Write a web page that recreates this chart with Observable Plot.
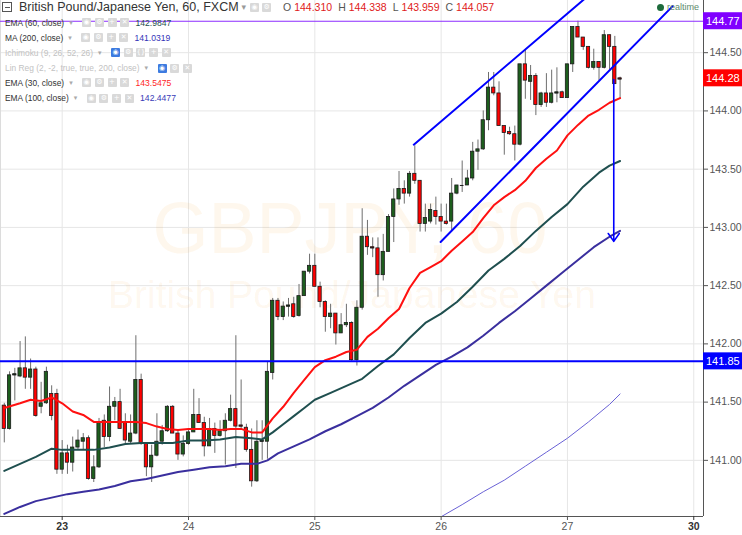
<!DOCTYPE html>
<html>
<head>
<meta charset="utf-8">
<script src="https://cdn.jsdelivr.net/npm/d3@7"></script>
<script src="https://cdn.jsdelivr.net/npm/@observablehq/plot@0.6"></script>
<style>
html,body{margin:0;padding:0;background:#fff;}
#wrap{position:relative;width:742px;height:535px;overflow:hidden;font-family:"Liberation Sans",Arial,sans-serif;}
#overlay{position:absolute;left:0;top:0;width:742px;height:535px;pointer-events:none;}
.t{position:absolute;white-space:nowrap;}
.ic{position:absolute;width:9px;height:9px;background:#d9d9d9;color:#fff;font-size:7px;line-height:9px;text-align:center;border-radius:1px;font-family:"DejaVu Sans",sans-serif;}
</style>
</head>
<body>
<div id="wrap"><div id="chart"></div><div id="overlay"></div></div>
<script>
// ---------- DATA (hourly candles, hour 0 = 23rd 00:00) ----------
const firstHour = -11;
const opens  = [141.47,141.27,141.73,141.72,141.79,141.71,141.78,141.46,141.49,141.57,141.57,140.92,141.06,140.98,141.11,141.16,141.19,140.84,140.94,141.34,141.20,141.46,141.50,141.32,141.16,141.23,141.69,141.14,140.94,141.04,141.16,141.25,141.46,141.23,141.05,141.14,141.24,141.39,141.32,141.12,141.27,141.21,141.25,141.34,141.44,141.30,141.28,141.09,140.82,141.16,141.16,141.75,142.37,142.23,142.32,142.34,142.24,142.41,142.62,142.67,142.49,142.36,142.23,142.26,142.09,142.16,142.18,141.86,142.31,142.92,142.83,142.82,142.59,142.79,143.09,143.24,143.33,143.29,143.46,143.40,143.03,143.05,143.14,143.09,143.05,143.05,143.29,143.36,143.36,143.42,143.65,143.67,143.92,144.20,144.15,143.87,143.82,143.80,143.71,144.40,144.25,144.30,144.05,144.15,144.07,144.15,144.16,144.11,144.40,144.72,144.63,144.55,144.37,144.42,144.37,144.65,144.55,144.28];
const highs  = [141.49,141.76,141.79,142.02,142.06,141.87,141.80,141.67,141.80,141.64,141.61,141.17,141.13,141.20,141.26,141.23,141.21,141.04,141.36,141.39,141.63,141.54,141.61,141.40,141.39,142.07,141.74,141.14,141.13,141.40,141.30,141.47,141.47,141.26,141.21,141.27,141.61,141.53,141.37,141.36,141.32,141.34,141.40,141.56,142.07,141.69,141.31,141.27,141.34,141.34,141.84,142.39,142.39,142.36,142.39,142.40,142.51,142.62,142.77,142.77,142.53,142.37,142.34,142.26,142.26,142.34,142.19,142.37,143.16,143.06,142.91,142.91,142.94,143.11,143.33,143.48,143.40,143.48,143.70,143.40,143.20,143.20,143.26,143.20,143.20,143.42,143.36,143.57,143.49,143.73,143.75,144.00,144.33,144.33,144.25,143.87,143.86,143.87,144.40,144.52,144.39,144.32,144.16,144.32,144.35,144.37,144.17,144.40,144.72,144.77,144.63,144.55,144.53,144.42,144.69,144.65,144.64,144.29];
const lows   = [141.15,141.26,141.51,141.71,141.61,141.61,141.37,141.40,141.48,141.34,140.88,140.88,140.88,140.90,141.09,141.09,140.83,140.81,140.93,141.11,141.16,141.34,141.27,141.14,141.14,141.22,141.13,140.86,140.81,141.03,141.13,141.24,141.23,141.00,141.03,141.13,141.24,141.32,141.03,141.12,141.06,141.20,140.96,141.33,140.93,141.27,141.07,140.77,140.81,141.00,141.01,141.69,142.20,142.20,142.23,142.22,142.23,142.41,142.60,142.49,142.31,142.10,142.13,141.99,142.09,142.14,141.85,141.81,142.29,142.76,142.74,142.40,142.54,142.79,142.87,143.19,143.20,143.26,143.37,142.96,142.96,143.03,143.02,142.96,143.02,142.96,143.28,143.30,143.36,143.40,143.49,143.66,143.83,144.13,143.87,143.62,143.79,143.57,143.70,144.10,144.09,143.96,144.03,144.03,144.06,144.07,144.11,144.11,144.33,144.63,144.52,144.36,144.35,144.26,144.36,144.35,144.23,144.10];
const closes = [141.27,141.73,141.74,141.79,141.71,141.78,141.38,141.49,141.76,141.38,140.92,141.06,140.98,141.11,141.17,141.19,140.84,140.94,141.32,141.20,141.46,141.50,141.27,141.17,141.23,141.69,141.14,140.94,141.04,141.16,141.25,141.46,141.23,141.05,141.14,141.24,141.39,141.32,141.12,141.27,141.21,141.25,141.34,141.44,141.29,141.29,141.09,140.82,141.16,141.17,141.76,142.37,142.23,142.32,142.33,142.23,142.41,142.62,142.67,142.49,142.36,142.23,142.26,142.09,142.16,142.18,141.86,142.31,142.92,142.83,142.82,142.59,142.79,143.09,143.24,143.33,143.29,143.46,143.40,143.03,143.08,143.15,143.09,143.05,143.03,143.29,143.36,143.36,143.42,143.65,143.67,143.92,144.20,144.15,143.87,143.81,143.80,143.71,144.40,144.26,144.30,144.05,144.15,144.07,144.15,144.16,144.11,144.40,144.72,144.63,144.55,144.37,144.42,144.37,144.65,144.55,144.23,144.27];

const ema30Hours  = [-11,-8,-6,-4,-2,0,2,4,6,8,10,12,14,16,18,20,22,24,26,28,30,32,34,36,38,40,42,44,46,48,50,52,54,56,58,60,62,64,66,68,70,72,74,76,78,80,82,84,86,88,90,92,94,96,98,100,102,104,106];
const ema30Values = [141.45,141.49,141.52,141.51,141.54,141.49,141.42,141.39,141.33,141.33,141.33,141.33,141.33,141.32,141.29,141.27,141.26,141.27,141.27,141.27,141.26,141.27,141.27,141.24,141.24,141.36,141.46,141.58,141.69,141.80,141.86,141.89,141.93,141.95,142.06,142.13,142.22,142.30,142.48,142.61,142.66,142.71,142.80,142.88,142.96,143.08,143.19,143.26,143.32,143.40,143.51,143.59,143.66,143.79,143.88,143.96,144.01,144.07,144.11];
const ema60Hours  = [-11,-8,-5,-2,0,3,6,9,12,15,18,21,24,27,30,33,36,38,40,42,44,46,48,51,54,57,60,63,66,69,72,75,78,81,84,87,90,93,96,99,102,104,106];
const ema60Values = [140.91,140.97,141.03,141.10,141.09,141.09,141.09,141.11,141.14,141.15,141.15,141.15,141.17,141.17,141.18,141.20,141.19,141.18,141.24,141.31,141.38,141.45,141.52,141.58,141.64,141.70,141.81,141.91,142.05,142.18,142.26,142.36,142.49,142.63,142.73,142.84,142.97,143.09,143.20,143.35,143.47,143.53,143.57];
const ema100Hours  = [-11,-8,-5,-2,1,4,7,10,13,16,19,22,25,28,31,34,37,39,41,44,47,50,53,56,59,62,65,68,71,74,77,80,83,86,89,92,95,98,101,104,106];
const ema100Values = [140.54,140.60,140.65,140.68,140.71,140.73,140.75,140.78,140.82,140.84,140.87,140.90,140.92,140.94,140.95,140.97,140.97,141.00,141.06,141.12,141.18,141.25,141.31,141.38,141.45,141.54,141.64,141.73,141.82,141.89,141.97,142.07,142.18,142.28,142.39,142.50,142.61,142.72,142.83,142.92,142.97];
const ma200Hours  = [71,76,80,84,88,92,96,100,104,106];
const ma200Values = [140.49,140.62,140.73,140.83,140.95,141.07,141.19,141.33,141.48,141.57];

const channelUpperHours = [66.8, 100.5];
const channelUpperPrices = [143.71, 145.01];
const channelLowerHours = [71.9, 116.0];
const channelLowerPrices = [142.875, 144.90];
const arrowHour = 104.8;
const arrowFrom = 144.27, arrowTo = 142.88;

const resistanceLevel = 144.77;
const supportLevel = 141.85;
const lastPriceLabel = 144.28;

const priceTicks = [141, 141.5, 142, 142.5, 143, 143.5, 144, 144.5];
const dayTickHours = [0, 24, 48, 72, 96, 120];
const dayLabels = ["23", "24", "25", "26", "27", "30"];
const boldDays = ["23", "30"];

const legendRows = [
  {label: "EMA (60, close)", value: "142.9847", color: "#1f4f4f", icons: ["◉","⚙","+","✕"], active: true},
  {label: "MA (200, close)", value: "141.0319", color: "#3434b8", icons: ["◉","⚙","+","✕"], active: true},
  {label: "Ichimoku (9, 26, 52, 26)", value: "", color: "", icons: ["◉","⚙","{}","+","✕"], active: false},
  {label: "Lin Reg (2, -2, true, true, 200, close)", value: "", color: "", icons: ["◉","⚙","✕"], active: false},
  {label: "EMA (30, close)", value: "143.5475", color: "#ff1f1f", icons: ["◉","⚙","+","✕"], active: true},
  {label: "EMA (100, close)", value: "142.4477", color: "#3a3ab8", icons: ["◉","⚙","+","✕"], active: true}
];
const titleText = "British Pound/Japanese Yen, 60, FXCM";
const ohlcText = [["O","144.310"],["H","144.338"],["L","143.959"],["C","144.057"]];

// ---------- BUILD ----------
const candles = opens.map((o, i) => ({h: firstHour + i, o, hi: highs[i], lo: lows[i], c: closes[i], up: closes[i] >= o}));
const toPts = (hs, vs) => hs.map((h, i) => ({h, v: vs[i]}));
const xDomain = [-11.72, 121.85];
const yDomain = [140.518, 144.948];
const dayLabel = new Map(dayTickHours.map((h, i) => [h, dayLabels[i]]));
const boldHours = dayTickHours.filter(h => boldDays.includes(dayLabel.get(h)));
const normalHours = dayTickHours.filter(h => !boldDays.includes(dayLabel.get(h)));

const plot = Plot.plot({
  width: 742, height: 535,
  marginLeft: 0, marginRight: 39, marginTop: 0, marginBottom: 19,
  x: {domain: xDomain, axis: null},
  y: {domain: yDomain, axis: null},
  style: {fontFamily: "'Liberation Sans', Arial, sans-serif", fontSize: "10.5px", background: "#fff"},
  marks: [
    Plot.gridY(priceTicks, {stroke: "#e6e6e6", strokeOpacity: 1}),
    Plot.gridX(dayTickHours, {stroke: "#e6e6e6", strokeOpacity: 1}),
    Plot.ruleX([xDomain[0]], {stroke: "#dcdcdc"}),
    Plot.text(["GBPJPY, 60"], {frameAnchor: "middle", dx: -2, dy: -29, fontSize: 72, fill: "#f7931e", fillOpacity: 0.08}),
    Plot.text(["British Pound/Japanese Yen"], {frameAnchor: "middle", dx: 0, dy: 37, fontSize: 39, fill: "#f7931e", fillOpacity: 0.08}),
    // candles
    Plot.ruleX(candles, {x: "h", y1: "lo", y2: "hi", stroke: "#6e6e6e", strokeWidth: 1}),
    Plot.rect(candles, {x1: d => d.h - 0.31, x2: d => d.h + 0.31, y1: "o", y2: "c",
      fill: d => d.up ? "#1d5e1d" : "#ff0000", stroke: "#1a1a1a", strokeWidth: 0.8}),
    Plot.ruleY(candles.filter(d => Math.abs(d.o - d.c) < 0.012), {y: d => (d.o + d.c) / 2, x1: d => d.h - 0.35, x2: d => d.h + 0.35, stroke: "#1a1a1a"}),
    // indicators
    Plot.line(toPts(ma200Hours, ma200Values), {x: "h", y: "v", stroke: "#6a62d6", strokeWidth: 1, clip: true}),
    Plot.line(toPts(ema100Hours, ema100Values), {x: "h", y: "v", stroke: "#3a2f9e", strokeWidth: 2, clip: true}),
    Plot.line(toPts(ema60Hours, ema60Values), {x: "h", y: "v", stroke: "#1f4f4f", strokeWidth: 2, clip: true}),
    Plot.line(toPts(ema30Hours, ema30Values), {x: "h", y: "v", stroke: "#ff1010", strokeWidth: 2, clip: true}),
    // levels & drawings
    Plot.ruleY([resistanceLevel], {stroke: "#8c2cff", strokeWidth: 1.2}),
    Plot.ruleY([supportLevel], {stroke: "#0000ff", strokeWidth: 2}),
    Plot.line(toPts(channelUpperHours, channelUpperPrices), {x: "h", y: "v", stroke: "#0000ff", strokeWidth: 2, clip: true}),
    Plot.line(toPts(channelLowerHours, channelLowerPrices), {x: "h", y: "v", stroke: "#0000ff", strokeWidth: 2, clip: true}),
    Plot.arrow([{h: arrowHour, a: arrowFrom, b: arrowTo}], {x: "h", y1: "a", y2: "b", stroke: "#0000ff", strokeWidth: 1.6, headLength: 9, headAngle: 70}),
    // axes
    Plot.ruleX([xDomain[1]], {stroke: "#555"}),
    Plot.ruleY([yDomain[0]], {stroke: "#555"}),
    Plot.axisY(priceTicks, {anchor: "right", label: null, tickSize: 4, tickPadding: 2, tickFormat: d => d.toFixed(2), color: "#555", fontSize: 10.5}),
    Plot.axisX(normalHours, {anchor: "bottom", label: null, tickSize: 4, tickPadding: 2, tickFormat: h => dayLabel.get(h), color: "#555", fontSize: 10.5}),
    Plot.axisX(boldHours, {anchor: "bottom", label: null, tickSize: 4, tickPadding: 2, tickFormat: h => dayLabel.get(h), color: "#333", fontSize: 10.5, fontWeight: "bold"})
  ]
});
document.getElementById("chart").appendChild(plot);

// price tags on the right scale
const yS = plot.scale("y"), xS = plot.scale("x");
const svg = d3.select(plot);
const xr = xS.apply(xDomain[1]);
[[resistanceLevel, "#8000ff"], [lastPriceLabel, "#ff0000"], [supportLevel, "#0000ff"]].forEach(([v, col]) => {
  const yy = yS.apply(v);
  svg.append("rect").attr("x", xr).attr("y", yy - 8.5).attr("width", 742 - xr).attr("height", 17).attr("fill", col);
  svg.append("text").attr("x", xr + 3).attr("y", yy).attr("dy", "0.36em").attr("fill", "#fff").attr("text-anchor", "start")
    .attr("font-size", 11).attr("font-family", "'Liberation Sans', Arial, sans-serif").text(v.toFixed(2));
});

// ---------- LEGEND OVERLAY ----------
const ov = document.getElementById("overlay");
function txt(s, left, cy, size, color, extra = "") {
  const d = document.createElement("div");
  d.className = "t"; d.textContent = s;
  d.style.cssText = `left:${left}px;top:${cy - size * 0.6}px;font-size:${size}px;line-height:${size * 1.2}px;color:${color};${extra}`;
  ov.appendChild(d); return d;
}
function icon(g, left, cy, bg) {
  const d = document.createElement("div");
  d.className = "ic"; d.textContent = g;
  d.style.left = left + "px"; d.style.top = (cy - 4.5) + "px"; d.style.background = bg;
  ov.appendChild(d);
}
// title row
const box = document.createElement("div");
box.style.cssText = "position:absolute;left:2px;top:2px;width:8px;height:8px;border:1px solid #555;";
const minus = document.createElement("div");
minus.style.cssText = "position:absolute;left:1.5px;top:3.5px;width:5px;height:1px;background:#555;";
box.appendChild(minus); ov.appendChild(box);
const title = txt(titleText, 19, 7.5, 12.5, "#333");
const tEnd = 19 + title.getBoundingClientRect().width;
const caret = txt("▾", tEnd + 3, 7.5, 9, "#999", "font-family:'DejaVu Sans',sans-serif;");
let ix0 = tEnd + 3 + caret.getBoundingClientRect().width + 4;
["◉","⚙"].forEach((g) => { icon(g, ix0, 7.5, "#d9d9d9"); ix0 += 12; });
let ox = Math.max(283, ix0 + 4);
ohlcText.forEach(([k, v]) => {
  const a = txt(k, ox, 7.5, 10.5, "#555"); ox += a.getBoundingClientRect().width + 3;
  const b = txt(v, ox, 7.5, 10.5, "#e02020"); ox += b.getBoundingClientRect().width + 6;
});
const rowY = [22.7, 37.7, 52.7, 68.3, 82.7, 98.3];
legendRows.forEach((r, i) => {
  const cy = rowY[i];
  const lab = txt(r.label, 5, cy, 8.4, r.active ? "#333" : "#c2c2c2");
  const end = 5 + lab.getBoundingClientRect().width;
  txt("▾", end + 5, cy, 7, "#aaa", "font-family:'DejaVu Sans',sans-serif;");
  let ix = end + 18;
  r.icons.forEach((g, j) => {
    const bg = (!r.active && j === 0) ? "#3d7be0" : "#d9d9d9";
    icon(g, ix, cy, bg); ix += 12.7;
  });
  if (r.value) txt(r.value, ix + 2.5, cy, 8.6, r.color);
});
// realtime marker
const dot = document.createElement("div");
dot.style.cssText = "position:absolute;left:657px;top:3.5px;width:7px;height:7px;border-radius:50%;background:#1d6b3c;";
ov.appendChild(dot);
txt("realtime", 667, 7, 9, "#5d8a6c");
</script>
</body>
</html>
